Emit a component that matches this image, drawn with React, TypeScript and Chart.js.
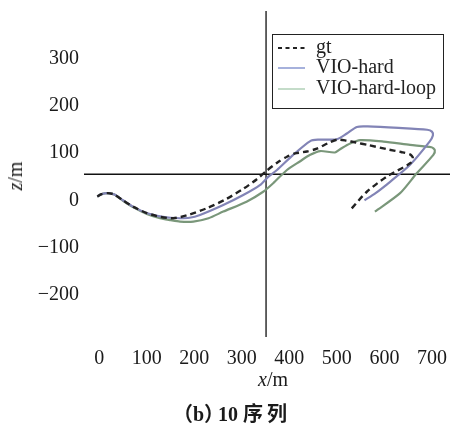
import React, { useEffect, useRef } from "react";
import { Chart, registerables } from "chart.js";

Chart.register(...registerables);

// ---- data ----
const GT_X = [-4, 5, 18, 32, 50, 72, 100, 128, 156, 184, 226, 268, 303, 331, 352, 375, 395, 412, 437, 458, 480, 500, 520, 540, 565, 605, 635, 654, 660, 654, 605, 563, 528];
const GT_Y = [8, 13, 15, 12, 0, -14, -27, -35, -38, -32, -17, 3, 24, 44, 62, 80, 92, 99, 103, 109, 120, 128, 126, 122, 117, 108, 102, 97, 89, 78, 50, 18, -21];

const HARD_X = [-4, 5, 18, 32, 50, 72, 100, 128, 150, 170, 190, 212, 261, 303, 338, 356, 374, 408, 444, 460, 500, 521, 542, 565, 630, 690, 700, 702, 695, 654, 612, 580, 558];
const HARD_Y = [8, 13, 15, 12, 0, -14, -27, -34, -37, -38, -37, -31, -10, 11, 32, 50, 64, 96, 125, 128, 129, 141, 155, 156, 153, 149, 145, 137, 124, 75, 39, 14, 0];

const LOOP_X = [-4, 5, 18, 32, 50, 72, 100, 128, 150, 170, 198, 230, 261, 310, 345, 366, 395, 422, 444, 465, 496, 510, 528, 549, 598, 654, 699, 706, 703, 668, 633, 580];
const LOOP_Y = [8, 13, 15, 12, -1, -15, -29, -38, -42, -45, -45, -38, -24, -3, 18, 36, 64, 82, 96, 104, 101, 110, 120, 127, 124, 117, 112, 106, 96, 57, 15, -24];

const SERIES_NAMES = ["gt", "VIO-hard", "VIO-hard-loop"];
const SERIES_COLORS = ["#222222", "#8284b6", "#7a977a"];
const LEGEND_COLORS = ["#222222", "#6a7cc4", "#9cc4a4"];

const X_TICKS = [0, 100, 200, 300, 400, 500, 600, 700];
const Y_TICKS = [-200, -100, 0, 100, 200, 300];
const X_RANGE = [-32, 738];
const Y_RANGE = [-289, 400];
const CROSS_X = 351;
const CROSS_Y = 55;

const CAPTION_PARTS = ["（b", "）", "10 序", "列"];

const SERIF = "'Liberation Serif', 'Times New Roman', serif";

function toPoints(xs: number[], ys: number[]) {
  return xs.map((x, i) => ({ x, y: ys[i] }));
}

const crossAndLegend = {
  id: "crossAndLegend",
  beforeDatasetsDraw(chart: any) {
    const { ctx, chartArea, scales } = chart;
    const px = scales.x.getPixelForValue(CROSS_X);
    const py = scales.y.getPixelForValue(CROSS_Y);
    ctx.save();
    ctx.strokeStyle = "#111";
    ctx.lineWidth = 1.3;
    ctx.beginPath();
    ctx.moveTo(px, chartArea.top);
    ctx.lineTo(px, chartArea.bottom);
    ctx.moveTo(chartArea.left, py);
    ctx.lineTo(chartArea.right, py);
    ctx.stroke();
    ctx.restore();
  },
  afterDraw(chart: any) {
    const { ctx } = chart;
    const bx = 272.5, by = 34.5, bw = 171, bh = 74;
    ctx.save();
    ctx.fillStyle = "#fff";
    ctx.fillRect(bx, by, bw, bh);
    ctx.strokeStyle = "#222";
    ctx.lineWidth = 1;
    ctx.strokeRect(bx, by, bw, bh);
    const rows = [48, 68, 89];
    SERIES_NAMES.forEach((name, i) => {
      const yy = rows[i];
      ctx.beginPath();
      ctx.strokeStyle = LEGEND_COLORS[i];
      if (i === 0) {
        ctx.setLineDash([4, 3.5]);
        ctx.lineWidth = 2;
      } else {
        ctx.setLineDash([]);
        ctx.lineWidth = 1.2;
      }
      ctx.moveTo(278, yy);
      ctx.lineTo(305, yy);
      ctx.stroke();
      ctx.setLineDash([]);
      ctx.fillStyle = "#222";
      ctx.font = `20px ${SERIF}`;
      ctx.textAlign = "left";
      ctx.textBaseline = "middle";
      ctx.fillText(name, 316, yy);
    });
    ctx.restore();
  },
};

export default function App() {
  const canvasRef = useRef<HTMLCanvasElement | null>(null);

  useEffect(() => {
    const canvas = canvasRef.current;
    if (!canvas) return;
    const series = [
      toPoints(GT_X, GT_Y),
      toPoints(HARD_X, HARD_Y),
      toPoints(LOOP_X, LOOP_Y),
    ];
    const chart = new Chart(canvas, {
      type: "scatter",
      data: {
        datasets: [
          {
            label: SERIES_NAMES[0],
            data: series[0],
            showLine: true,
            borderColor: SERIES_COLORS[0],
            borderWidth: 2.4,
            borderDash: [6, 4],
            pointRadius: 0,
            tension: 0.25,
            order: 0,
          },
          {
            label: SERIES_NAMES[1],
            data: series[1],
            showLine: true,
            borderColor: SERIES_COLORS[1],
            borderWidth: 2.2,
            pointRadius: 0,
            tension: 0.25,
            order: 1,
          },
          {
            label: SERIES_NAMES[2],
            data: series[2],
            showLine: true,
            borderColor: SERIES_COLORS[2],
            borderWidth: 2.2,
            pointRadius: 0,
            tension: 0.25,
            order: 2,
          },
        ],
      },
      options: {
        responsive: false,
        maintainAspectRatio: false,
        animation: false,
        layout: { padding: { top: 11, left: 0, right: 0, bottom: 0 } },
        plugins: {
          legend: { display: false },
          tooltip: { enabled: false },
          title: { display: false },
        },
        scales: {
          x: {
            type: "linear",
            min: X_RANGE[0],
            max: X_RANGE[1],
            grid: { display: false, drawTicks: false },
            border: { display: false },
            ticks: {
              padding: 10,
              color: "#1a1a1a",
              font: { family: SERIF, size: 20 },
              maxRotation: 0,
              callback: (v: any) => String(v),
            },
            afterBuildTicks: (scale: any) => {
              scale.ticks = X_TICKS.map((value) => ({ value }));
            },
            afterFit: (scale: any) => {
              scale.height = 90;
              scale.paddingLeft = 0;
              scale.paddingRight = 0;
            },
          },
          y: {
            type: "linear",
            min: Y_RANGE[0],
            max: Y_RANGE[1],
            grid: { display: false, drawTicks: false },
            border: { display: false },
            ticks: {
              padding: 5,
              color: "#1a1a1a",
              font: { family: SERIF, size: 20 },
              callback: (v: any) => String(v).replace("-", "\u2212"),
            },
            afterBuildTicks: (scale: any) => {
              scale.ticks = Y_TICKS.map((value) => ({ value }));
            },
            afterFit: (scale: any) => {
              scale.width = 84;
              scale.paddingTop = 0;
              scale.paddingBottom = 0;
            },
          },
        },
      },
      plugins: [crossAndLegend],
    });
    return () => chart.destroy();
  }, []);

  return (
    <div
      style={{
        position: "fixed",
        left: 0,
        top: 0,
        width: 450,
        height: 427,
        background: "#fff",
        overflow: "hidden",
      }}
    >
      <canvas ref={canvasRef} width={450} height={427} style={{ position: "absolute", left: 0, top: 0 }} />
      <div
        style={{
          position: "absolute",
          left: 273,
          top: 379,
          transform: "translate(-50%, -50%)",
          fontFamily: SERIF,
          fontSize: 20,
          lineHeight: "24px",
          color: "#1a1a1a",
          whiteSpace: "nowrap",
        }}
      >
        <i>x</i>/m
      </div>
      <div
        style={{
          position: "absolute",
          left: 15,
          top: 176,
          transform: "translate(-50%, -50%) rotate(-90deg)",
          fontFamily: SERIF,
          fontSize: 20,
          lineHeight: "24px",
          color: "#1a1a1a",
          whiteSpace: "nowrap",
        }}
      >
        <i>z</i>/m
      </div>
      <div
        style={{
          position: "absolute",
          left: 230,
          top: 414,
          transform: "translate(-50%, -50%)",
          fontFamily: "'Liberation Serif', 'Noto Sans CJK SC', serif",
          fontWeight: "bold",
          fontSize: 20,
          lineHeight: "24px",
          color: "#1a1a1a",
          whiteSpace: "nowrap",
        }}
      >
        {CAPTION_PARTS[0]}
        <span style={{ marginRight: -6 }}>{CAPTION_PARTS[1]}</span>
        <span style={{ marginRight: 4 }}>{CAPTION_PARTS[2]}</span>
        {CAPTION_PARTS[3]}
      </div>
    </div>
  );
}
